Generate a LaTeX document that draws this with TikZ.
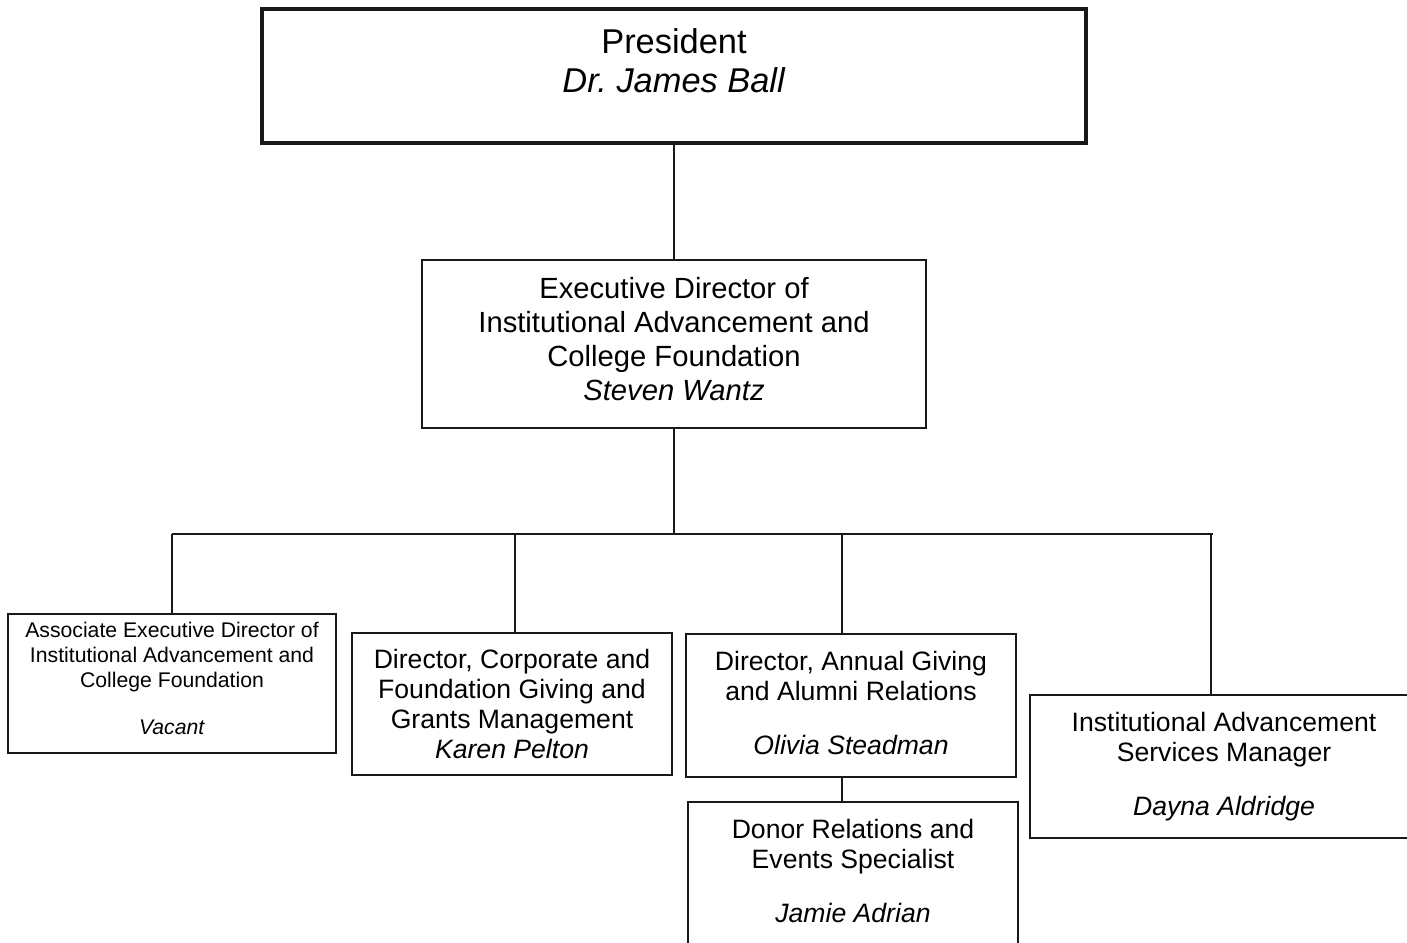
\documentclass[tikz,border=0pt]{standalone}
\usepackage{fontspec}
\setmainfont{Liberation Sans}
\usetikzlibrary{positioning}
\frenchspacing

\begin{document}
\begin{tikzpicture}[x=0.5pt,y=-0.5pt,
  every node/.style={align=center,inner sep=0pt},
  box/.style={draw=black!90,line width=1pt,font=\fontsize{13.3}{15}\selectfont},
  line/.style={draw=black!90,line width=1pt}]
  \useasboundingbox (0,0) rectangle (1407,942);
  \clip (0,0) rectangle (1407,942);

  % Top level
  \node[box,line width=2pt,minimum width=412pt,minimum height=67pt,
        text depth=15pt,font=\fontsize{17.2}{19.5}\selectfont]
        (pres) at (674,76) {President\\\textit{Dr. James Ball}};
  \node[box,minimum width=252pt,minimum height=84pt,text depth=5pt,
        font=\fontsize{14.6}{17}\selectfont]
        (exec) at (674,344) {Executive Director of\\Institutional Advancement and\\College Foundation\\\textit{Steven Wantz}};

  % Directors
  \node[box,minimum width=164pt,minimum height=69.5pt,text depth=5pt,
        font=\fontsize{10.6}{12.5}\selectfont]
        (assoc) at (172,683.5) {Associate Executive Director of\\Institutional Advancement and\\College Foundation\\[11pt]\textit{Vacant}};
  \node[box,minimum width=160pt,minimum height=71pt]
        (corp) at (512,704) {Director, Corporate and\\Foundation Giving and\\Grants Management\\\textit{Karen Pelton}};
  \node[box,minimum width=165pt,minimum height=71.5pt,text depth=3pt]
        (annual) at (851,705.5) {Director, Annual Giving\\and Alumni Relations\\[12pt]\textit{Olivia Steadman}};
  \node[box,minimum width=165pt,minimum height=73pt,text depth=4pt]
        (donor) at (853,875) {Donor Relations and\\Events Specialist\\[12pt]\textit{Jamie Adrian}};
  \node[box,minimum width=194pt,minimum height=71.5pt]
        (services) at (1224,766.5) {Institutional Advancement\\Services Manager\\[12pt]\textit{Dayna Aldridge}};

  % Connectors
  \coordinate (busL) at (172,534);
  \coordinate (busR) at (1213,534);
  \coordinate (dropB) at (515,534);
  \coordinate (dropC) at (842,534);
  \coordinate (dropD) at (1211,534);
  \draw[line] (pres.south) -- (exec.north);
  \draw[line] (exec.south) -- (exec.south |- busL);
  \draw[line] (busL) -- (busR);
  \draw[line] (busL) -- (busL |- assoc.north);
  \draw[line] (dropB) -- (dropB |- corp.north);
  \draw[line] (dropC) -- (dropC |- annual.north);
  \draw[line] (dropD) -- (dropD |- services.north);
  \draw[line] (annual.south -| dropC) -- (donor.north -| dropC);
\end{tikzpicture}
\end{document}
